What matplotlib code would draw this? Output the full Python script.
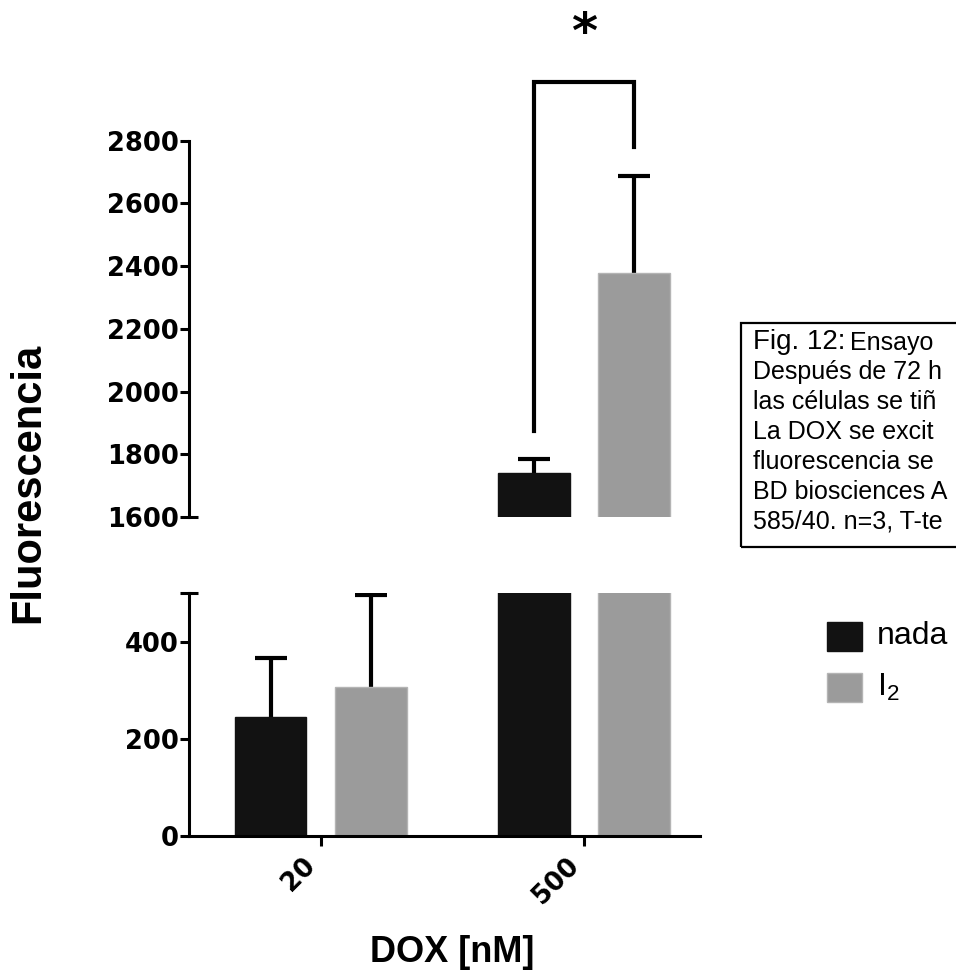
import numpy as np
import matplotlib
matplotlib.use('Agg')
import matplotlib.pyplot as plt
from matplotlib.patches import Rectangle

plt.rcParams['font.family'] = ['Liberation Sans', 'DejaVu Sans']
plt.rcParams['mathtext.fontset'] = 'custom'
plt.rcParams['mathtext.rm'] = 'Liberation Sans'

# data
doses = ['20', '500']
series = ['nada', r'$\mathregular{I_2}$']
nada_mean = [244, 1741]
nada_err = [123, 43]
i2_mean = [307, 2377]
i2_err = [189, 311]
colors = ['#121212', '#9b9b9b']
edge_colors = ['#121212', '#b4b4b4']

top_ticks = [1600, 1800, 2000, 2200, 2400, 2600, 2800]
bot_ticks = [0, 200, 400]

# caption as far as it is visible (the box runs off the right edge)
caption_head = 'Fig. 12:'
caption_first = 'Ensayo'
caption = [
    'Después de 72 h',
    'las células se tiñ',
    'La DOX se excit',
    'fluorescencia se',
    'BD biosciences A',
    '585/40. n=3, T-te',
]

W, H = 956, 975
fig = plt.figure(figsize=(W / 100, H / 100), dpi=100)


def fx(px):
    return px / W


def fy(py):
    return 1 - py / H


ax_top = fig.add_axes([fx(189), fy(517), fx(700) - fx(189), fy(140.5) - fy(517)])
ax_bot = fig.add_axes([fx(189), fy(836), fx(700) - fx(189), fy(593) - fy(836)])

x = np.arange(len(doses))
width = 0.272
offset = 0.19
means = [nada_mean, i2_mean]
errs = [nada_err, i2_err]

for ax in (ax_top, ax_bot):
    for k in range(2):
        xs = x + (2 * k - 1) * offset
        ax.bar(xs, means[k], width, color=colors[k], edgecolor=edge_colors[k],
               linewidth=1, zorder=2)
        eb = ax.errorbar(xs, means[k], yerr=[np.zeros(len(doses)), errs[k]], fmt='none',
                         ecolor='black', elinewidth=3, capsize=11.5, capthick=3, zorder=1)
        # only the upper half of the error bar is drawn
        eb[1][0].set_visible(False)
    ax.set_xlim(-0.5, 1.44)
    for s in ('top', 'right'):
        ax.spines[s].set_visible(False)
    ax.spines['left'].set_linewidth(2.2)
    ax.spines['bottom'].set_linewidth(2.2)
    ax.tick_params(axis='y', direction='out', length=6.5, width=2.2, pad=1)
    ax.yaxis.remove_overlapping_locs = False

# top part of the broken axis
ax_top.set_ylim(1600, 2800)
ax_top.set_yticks(top_ticks)
ax_top.set_yticks([1600], minor=True)
ax_top.tick_params(axis='y', which='minor', direction='in', length=6.5, width=2.2)
ax_top.spines['bottom'].set_visible(False)
ax_top.set_xticks([])

# bottom part
ax_bot.set_ylim(0, 500)
ax_bot.set_yticks(bot_ticks)
ax_bot.set_yticks([500], minor=True)
ax_bot.tick_params(axis='y', which='minor', direction='inout', length=13, width=2.2)
ax_bot.set_xticks(x)
ax_bot.set_xticklabels(doses, rotation=45, ha='right', va='top')
ax_bot.tick_params(axis='x', direction='out', length=7, width=2.2, pad=5)

for ax in (ax_top, ax_bot):
    for lab in ax.get_yticklabels() + ax.get_xticklabels():
        lab.set_fontfamily('DejaVu Sans')
        lab.set_fontweight('bold')
        lab.set_fontsize(18.5)

# significance bracket
xl = x[1] - offset
xr = x[1] + offset
bracket_top = 2985
yl = nada_mean[1] + nada_err[1] + 90
yr = i2_mean[1] + i2_err[1] + 90
ax_top.plot([xl, xl, xr, xr], [yl, bracket_top, bracket_top, yr], color='black',
            lw=3, clip_on=False, solid_joinstyle='miter')
ax_top.annotate('*', xy=(x[1], bracket_top), xytext=(0, 25), textcoords='offset points',
                ha='center', va='baseline', fontsize=36, fontweight='bold',
                fontfamily='DejaVu Sans', annotation_clip=False)

# axis labels
fig.text(fx(28), fy(483), 'Fluorescencia', rotation=90, ha='center', va='center',
         fontsize=30, fontweight='bold')
fig.text(fx(452), fy(952), 'DOX [nM]', ha='center', va='center',
         fontsize=26, fontweight='bold')

# legend
for k in range(2):
    yc = [636, 687][k]
    fig.add_artist(Rectangle((fx(827), fy(yc + 14.5)), fx(35), 29 / H,
                             transform=fig.transFigure, facecolor=colors[k],
                             edgecolor=edge_colors[k], lw=1))
    fig.text(fx(877), fy(yc), series[k], ha='left', va='center', fontsize=23)

# caption box, cut off by the right edge of the figure
fig.add_artist(Rectangle((fx(741), fy(547)), fx(400), (547 - 323) / H,
                         transform=fig.transFigure, fill=False, edgecolor='black', lw=1.6))
t1 = fig.text(fx(753), fy(342), caption_head, ha='left', va='center', fontsize=20)
fig.canvas.draw()
bb = t1.get_window_extent()
fig.text(bb.x1 / W + fx(5), fy(343), caption_first, ha='left', va='center', fontsize=18)
for i, line in enumerate(caption):
    fig.text(fx(753), fy(372 + 30 * i), line, ha='left', va='center', fontsize=18)

fig.savefig('out.png', dpi=100)
